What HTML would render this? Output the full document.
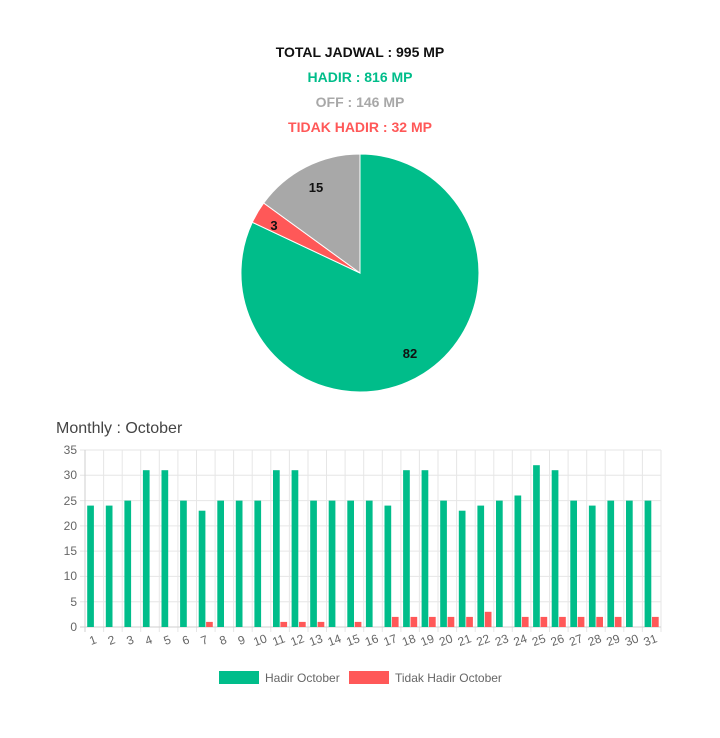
<!DOCTYPE html>
<html><head><meta charset="utf-8"><style>
html,body{margin:0;padding:0;background:#fff;width:720px;height:738px;overflow:hidden}
svg{display:block}
</style></head><body>
<svg width="720" height="738" viewBox="0 0 720 738" xmlns="http://www.w3.org/2000/svg" font-family="Liberation Sans, sans-serif">
<g font-weight="bold" font-size="14" text-anchor="middle">
<text x="360" y="57" fill="#111">TOTAL JADWAL : 995 MP</text>
<text x="360" y="82" fill="#00bd8a">HADIR : 816 MP</text>
<text x="360" y="107" fill="#a8a8a8">OFF : 146 MP</text>
<text x="360" y="132" fill="#ff5858">TIDAK HADIR : 32 MP</text>
</g>
<!-- pie -->
<path d="M360,273 L360,154 A119,119 0 1,1 252.3,222.3 Z" fill="#00bd8a" stroke="#fff" stroke-width="1"/>
<path d="M360,273 L252.3,222.3 A119,119 0 0,1 263.7,203 Z" fill="#ff5858" stroke="#fff" stroke-width="1"/>
<path d="M360,273 L263.7,203 A119,119 0 0,1 360,154 Z" fill="#a8a8a8" stroke="#fff" stroke-width="1"/>
<g font-weight="bold" font-size="13" fill="#111" text-anchor="middle">
<text x="410" y="358">82</text><text x="274" y="230">3</text><text x="316" y="192">15</text>
</g>
<text x="56" y="433" font-size="16" fill="#444">Monthly : October</text>
<!-- grid -->
<g stroke="#e6e6e6" stroke-width="1">
<line x1="80" y1="450" x2="661" y2="450"/><line x1="80" y1="475.3" x2="661" y2="475.3"/><line x1="80" y1="500.6" x2="661" y2="500.6"/><line x1="80" y1="525.9" x2="661" y2="525.9"/><line x1="80" y1="551.1" x2="661" y2="551.1"/><line x1="80" y1="576.4" x2="661" y2="576.4"/><line x1="80" y1="601.7" x2="661" y2="601.7"/>
<line x1="103.6" y1="450" x2="103.6" y2="632"/><line x1="122.2" y1="450" x2="122.2" y2="632"/><line x1="140.7" y1="450" x2="140.7" y2="632"/><line x1="159.3" y1="450" x2="159.3" y2="632"/><line x1="177.9" y1="450" x2="177.9" y2="632"/><line x1="196.5" y1="450" x2="196.5" y2="632"/><line x1="215.1" y1="450" x2="215.1" y2="632"/><line x1="233.6" y1="450" x2="233.6" y2="632"/><line x1="252.2" y1="450" x2="252.2" y2="632"/><line x1="270.8" y1="450" x2="270.8" y2="632"/><line x1="289.4" y1="450" x2="289.4" y2="632"/><line x1="308" y1="450" x2="308" y2="632"/><line x1="326.5" y1="450" x2="326.5" y2="632"/><line x1="345.1" y1="450" x2="345.1" y2="632"/><line x1="363.7" y1="450" x2="363.7" y2="632"/><line x1="382.3" y1="450" x2="382.3" y2="632"/><line x1="400.9" y1="450" x2="400.9" y2="632"/><line x1="419.4" y1="450" x2="419.4" y2="632"/><line x1="438" y1="450" x2="438" y2="632"/><line x1="456.6" y1="450" x2="456.6" y2="632"/><line x1="475.2" y1="450" x2="475.2" y2="632"/><line x1="493.8" y1="450" x2="493.8" y2="632"/><line x1="512.3" y1="450" x2="512.3" y2="632"/><line x1="530.9" y1="450" x2="530.9" y2="632"/><line x1="549.5" y1="450" x2="549.5" y2="632"/><line x1="568.1" y1="450" x2="568.1" y2="632"/><line x1="586.7" y1="450" x2="586.7" y2="632"/><line x1="605.2" y1="450" x2="605.2" y2="632"/><line x1="623.8" y1="450" x2="623.8" y2="632"/><line x1="642.4" y1="450" x2="642.4" y2="632"/><line x1="661" y1="450" x2="661" y2="632"/>
</g>
<g stroke="#cfcfcf"><line x1="85" y1="450" x2="85" y2="632"/><line x1="80" y1="627" x2="661" y2="627"/></g>
<g font-size="12" fill="#666" text-anchor="end">
<text x="77" y="454">35</text><text x="77" y="479">30</text><text x="77" y="505">25</text><text x="77" y="530">20</text><text x="77" y="555">15</text><text x="77" y="580">10</text><text x="77" y="606">5</text><text x="77" y="631">0</text>
</g>
<!-- green bars -->
<g fill="#00bd8a">
<rect x="87.2" y="505.6" width="6.7" height="121.4"/><rect x="105.8" y="505.6" width="6.7" height="121.4"/><rect x="124.4" y="500.6" width="6.7" height="126.4"/><rect x="142.9" y="470.2" width="6.7" height="156.8"/><rect x="161.5" y="470.2" width="6.7" height="156.8"/><rect x="180.1" y="500.6" width="6.7" height="126.4"/><rect x="198.7" y="510.7" width="6.7" height="116.3"/><rect x="217.3" y="500.6" width="6.7" height="126.4"/><rect x="235.8" y="500.6" width="6.7" height="126.4"/><rect x="254.4" y="500.6" width="6.7" height="126.4"/><rect x="273" y="470.2" width="6.7" height="156.8"/><rect x="291.6" y="470.2" width="6.7" height="156.8"/><rect x="310.2" y="500.6" width="6.7" height="126.4"/><rect x="328.7" y="500.6" width="6.7" height="126.4"/><rect x="347.3" y="500.6" width="6.7" height="126.4"/><rect x="365.9" y="500.6" width="6.7" height="126.4"/><rect x="384.5" y="505.6" width="6.7" height="121.4"/><rect x="403.1" y="470.2" width="6.7" height="156.8"/><rect x="421.6" y="470.2" width="6.7" height="156.8"/><rect x="440.2" y="500.6" width="6.7" height="126.4"/><rect x="458.8" y="510.7" width="6.7" height="116.3"/><rect x="477.4" y="505.6" width="6.7" height="121.4"/><rect x="496" y="500.6" width="6.7" height="126.4"/><rect x="514.5" y="495.5" width="6.7" height="131.5"/><rect x="533.1" y="465.2" width="6.7" height="161.8"/><rect x="551.7" y="470.2" width="6.7" height="156.8"/><rect x="570.3" y="500.6" width="6.7" height="126.4"/><rect x="588.9" y="505.6" width="6.7" height="121.4"/><rect x="607.4" y="500.6" width="6.7" height="126.4"/><rect x="626" y="500.6" width="6.7" height="126.4"/><rect x="644.6" y="500.6" width="6.7" height="126.4"/>
</g>
<!-- red bars -->
<g fill="#ff5858">
<rect x="206.1" y="621.9" width="6.7" height="5.1"/><rect x="280.4" y="621.9" width="6.7" height="5.1"/><rect x="299" y="621.9" width="6.7" height="5.1"/><rect x="317.6" y="621.9" width="6.7" height="5.1"/><rect x="354.7" y="621.9" width="6.7" height="5.1"/><rect x="391.9" y="616.9" width="6.7" height="10.1"/><rect x="410.5" y="616.9" width="6.7" height="10.1"/><rect x="429" y="616.9" width="6.7" height="10.1"/><rect x="447.6" y="616.9" width="6.7" height="10.1"/><rect x="466.2" y="616.9" width="6.7" height="10.1"/><rect x="484.8" y="611.8" width="6.7" height="15.2"/><rect x="521.9" y="616.9" width="6.7" height="10.1"/><rect x="540.5" y="616.9" width="6.7" height="10.1"/><rect x="559.1" y="616.9" width="6.7" height="10.1"/><rect x="577.7" y="616.9" width="6.7" height="10.1"/><rect x="596.3" y="616.9" width="6.7" height="10.1"/><rect x="614.8" y="616.9" width="6.7" height="10.1"/><rect x="652" y="616.9" width="6.7" height="10.1"/>
</g>
<!-- x labels -->
<g font-size="12" fill="#666" text-anchor="middle">
<text transform="translate(94.3,644) rotate(-20)">1</text><text transform="translate(112.9,644) rotate(-20)">2</text><text transform="translate(131.5,644) rotate(-20)">3</text><text transform="translate(150,644) rotate(-20)">4</text><text transform="translate(168.6,644) rotate(-20)">5</text><text transform="translate(187.2,644) rotate(-20)">6</text><text transform="translate(205.8,644) rotate(-20)">7</text><text transform="translate(224.4,644) rotate(-20)">8</text><text transform="translate(242.9,644) rotate(-20)">9</text><text transform="translate(261.5,644) rotate(-20)">10</text><text transform="translate(280.1,644) rotate(-20)">11</text><text transform="translate(298.7,644) rotate(-20)">12</text><text transform="translate(317.3,644) rotate(-20)">13</text><text transform="translate(335.8,644) rotate(-20)">14</text><text transform="translate(354.4,644) rotate(-20)">15</text><text transform="translate(373,644) rotate(-20)">16</text><text transform="translate(391.6,644) rotate(-20)">17</text><text transform="translate(410.2,644) rotate(-20)">18</text><text transform="translate(428.7,644) rotate(-20)">19</text><text transform="translate(447.3,644) rotate(-20)">20</text><text transform="translate(465.9,644) rotate(-20)">21</text><text transform="translate(484.5,644) rotate(-20)">22</text><text transform="translate(503.1,644) rotate(-20)">23</text><text transform="translate(521.6,644) rotate(-20)">24</text><text transform="translate(540.2,644) rotate(-20)">25</text><text transform="translate(558.8,644) rotate(-20)">26</text><text transform="translate(577.4,644) rotate(-20)">27</text><text transform="translate(596,644) rotate(-20)">28</text><text transform="translate(614.5,644) rotate(-20)">29</text><text transform="translate(633.1,644) rotate(-20)">30</text><text transform="translate(651.7,644) rotate(-20)">31</text>
</g>
<!-- legend -->
<rect x="219" y="671" width="40" height="13" fill="#00bd8a"/>
<text x="265" y="682" font-size="12" fill="#666">Hadir October</text>
<rect x="349" y="671" width="40" height="13" fill="#ff5858"/>
<text x="395" y="682" font-size="12" fill="#666">Tidak Hadir October</text>
</svg>
</body></html>
